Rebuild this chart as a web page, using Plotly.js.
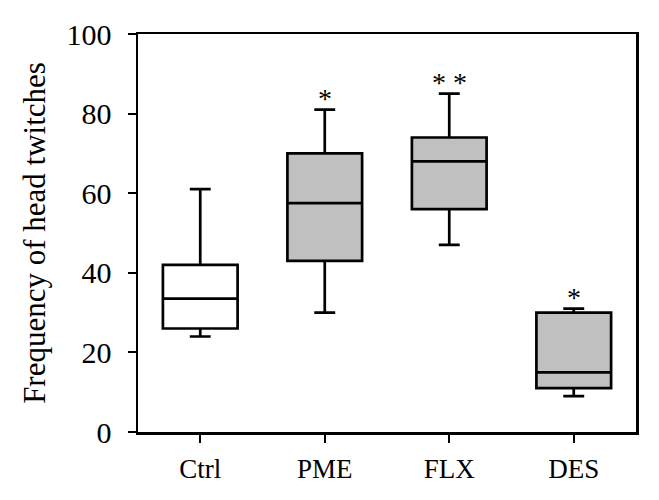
<!DOCTYPE html>
<html>
<head>
<meta charset="utf-8">
<script src="https://cdn.plot.ly/plotly-3.0.1.min.js"></script>
<style>
  html, body { margin: 0; padding: 0; background: #fff; }
  #clip { width: 659px; height: 478px; overflow: hidden; }
  #chart { width: 659px; height: 500px; }
</style>
</head>
<body>
<div id="clip"><div id="chart"></div></div>
<script>
// Data
const categories = ['Ctrl', 'PME', 'FLX', 'DES'];
const lowerWhisker = [24, 30, 47, 9];
const q1Values = [26, 43, 56, 11];
const medianValues = [33.5, 57.5, 68, 15];
const q3Values = [42, 70, 74, 30];
const upperWhisker = [61, 81, 85, 31];
const significance = ['', '*', '* *', '*'];
const fillColors = ['#ffffff', '#c0c0c0', '#c0c0c0', '#c0c0c0'];
const yTicks = [0, 20, 40, 60, 80, 100];

const serif = 'Liberation Serif, Times New Roman, serif';

const traces = categories.map((c, i) => ({
  type: 'box',
  x: [c],
  q1: [q1Values[i]],
  median: [medianValues[i]],
  q3: [q3Values[i]],
  lowerfence: [lowerWhisker[i]],
  upperfence: [upperWhisker[i]],
  width: 0.6,
  whiskerwidth: 0.28,
  fillcolor: fillColors[i],
  line: { color: '#000000', width: 2.7 },
  boxpoints: false,
  hoverinfo: 'skip',
  showlegend: false
}));

const annotations = categories.map((c, i) => ({
  x: c,
  y: upperWhisker[i],
  xref: 'x',
  yref: 'y',
  text: significance[i],
  showarrow: false,
  yanchor: 'bottom',
  yshift: -6,
  font: { family: serif, size: 28, color: '#000' }
})).filter(a => a.text !== '');

const layout = {
  width: 659,
  height: 500,
  margin: { l: 138, r: 23, t: 34, b: 68 },
  paper_bgcolor: '#ffffff',
  plot_bgcolor: '#ffffff',
  font: { family: serif, color: '#000' },
  boxmode: 'overlay',
  xaxis: {
    type: 'category',
    categoryorder: 'array',
    categoryarray: categories,
    range: [-0.5, 3.5],
    showline: true,
    linecolor: '#000',
    linewidth: 2.5,
    mirror: true,
    ticks: 'outside',
    ticklen: 8,
    tickwidth: 2,
    tickcolor: '#000',
    showgrid: false,
    zeroline: false,
    tickfont: { family: serif, size: 27, color: '#000' },
    ticklabelstandoff: 3
  },
  yaxis: {
    range: [0, 100],
    tickvals: yTicks,
    showline: true,
    linecolor: '#000',
    linewidth: 2.5,
    mirror: true,
    ticks: 'outside',
    ticklen: 8,
    tickwidth: 2,
    tickcolor: '#000',
    showgrid: false,
    zeroline: false,
    tickfont: { family: serif, size: 30, color: '#000' },
    ticklabelstandoff: 10,
    title: { text: 'Frequency of head twitches', font: { family: serif, size: 31, color: '#000' }, standoff: 12 }
  },
  annotations: annotations
};

Plotly.newPlot('chart', traces, layout, { displayModeBar: false, staticPlot: true });
</script>
</body>
</html>
